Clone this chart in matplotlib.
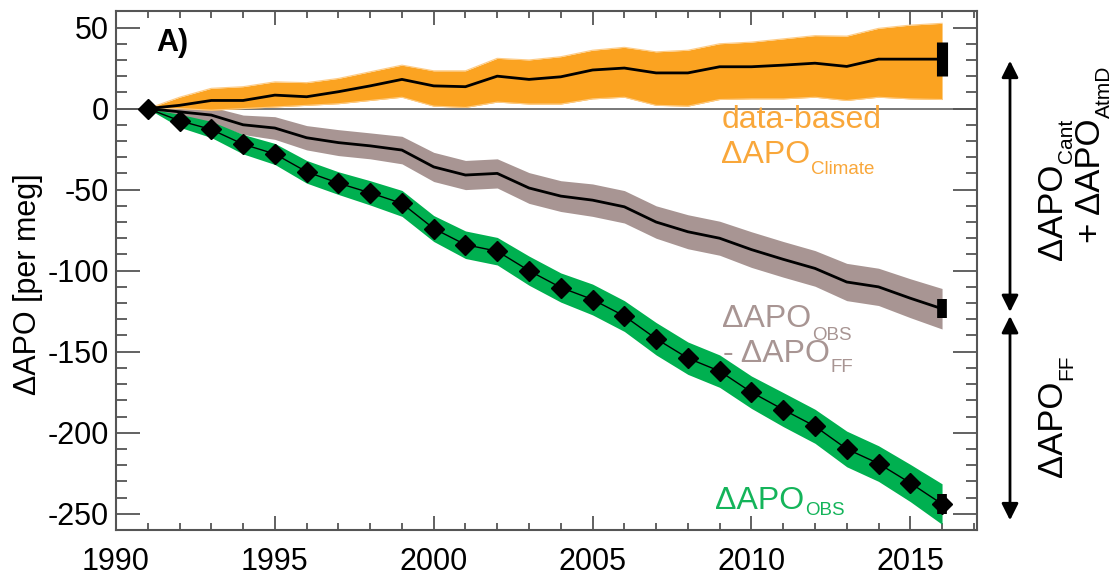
import matplotlib
matplotlib.use("Agg")
import matplotlib.pyplot as plt
from matplotlib.ticker import MultipleLocator
from matplotlib.transforms import IdentityTransform
import numpy as np

plt.rcParams['font.family'] = ['Liberation Sans', 'DejaVu Sans']
plt.rcParams['axes.unicode_minus'] = False

years = list(range(1991, 2017))

# data-based dAPO_Climate (orange): central line and band edges
climate_mid = [0, 2, 5, 5, 8.3, 7.3, 10.4, 14, 18, 14, 13.5, 20, 18, 19.6, 23.8, 25,
               22, 22, 25.8, 25.8, 26.8, 28, 26, 30.5, 30.5, 30.5]
climate_hi = [0, 7, 12.5, 13.5, 16.5, 16, 18.6, 22.7, 26.8, 23.3, 23.3, 31, 30, 32, 36, 37.8,
              35, 36, 40, 41, 43, 45, 44.7, 49.5, 51.5, 52.6]
climate_lo = [0, 0, -1, 0, 1, 2, 3, 5, 7, 1.5, 0.7, 4, 2.8, 2.8, 6, 7,
              2, 1.5, 5.6, 6, 6, 7, 5, 7, 6, 5.6]
climate_err_end = 10.6

# dAPO_OBS - dAPO_FF (grey-brown)
resid_mid = [0, -2, -4, -10, -12, -18, -21, -23, -25.6, -36, -41, -40, -49, -54, -56.5, -60.6,
             -70, -76, -80, -87, -93, -98.6, -107, -110, -117, -123.5]
resid_unc = [0, 3, 5, 6, 7, 7.5, 8, 8, 8.5, 9, 9, 9, 9.5, 9.5, 10, 10,
             10, 10.5, 10.5, 11, 11, 11, 11.5, 11.5, 12, 12.5]
resid_err_end = 6

# dAPO_OBS (green, diamonds)
obs_mid = [0, -7.5, -12.9, -22, -28, -39, -46, -52, -58.5, -74, -84, -88, -100, -110.4, -117.8, -128,
           -142, -154, -162, -175, -185.7, -196, -210, -219, -231, -244]
obs_unc = [0, 4, 5, 6, 6.5, 7, 7, 7.5, 8, 8, 8.5, 8.5, 9, 9, 9.5, 9.5,
           10, 10, 10, 10, 10.5, 10.5, 11, 11, 11.5, 12.5]
obs_err_end = 6

xticks = [1990, 1995, 2000, 2005, 2010, 2015]
yticks = [50, 0, -50, -100, -150, -200, -250]

ORANGE = '#FBA321'
ORANGE_TXT = '#F9A73A'
GREY = '#A89593'
GREEN = '#00B050'
GREEN_TXT = '#14B45A'
SPINE = '#555555'

W, H = 1114, 576
fig = plt.figure(figsize=(W / 100, H / 100), dpi=100)
ax = fig.add_axes([116 / W, 1 - 530 / H, (977 - 116) / W, (530 - 11) / H])

x = np.array(years)
ax.axhline(0, color='#606060', lw=1.2, zorder=1)

ax.fill_between(x, np.array(resid_mid) - np.array(resid_unc), np.array(resid_mid) + np.array(resid_unc),
                color=GREY, lw=0, zorder=2)
ax.fill_between(x, np.array(obs_mid) - np.array(obs_unc), np.array(obs_mid) + np.array(obs_unc),
                color=GREEN, lw=0, zorder=3)
ax.fill_between(x, climate_lo, climate_hi, color=ORANGE, lw=0, zorder=4)
ax.plot(x, climate_hi, color='#FDCB85', lw=0.8, zorder=4.5)
ax.plot(x, climate_lo, color='#FDCB85', lw=0.8, zorder=4.5)

ax.plot(x, climate_mid, color='black', lw=2, zorder=6)
ax.plot(x, resid_mid, color='black', lw=2, zorder=6)
ax.plot(x, obs_mid, color='black', lw=1, marker='D', ms=10, mfc='black', mec='black', zorder=7)

# end error bars
ax.errorbar([years[-1]], [climate_mid[-1]], yerr=[climate_err_end], color='black', elinewidth=8,
            capsize=0, zorder=8, fmt='none')
ax.errorbar([years[-1]], [resid_mid[-1]], yerr=[resid_err_end], color='black', elinewidth=7,
            capsize=0, zorder=8, fmt='none')
ax.errorbar([years[-1]], [obs_mid[-1]], yerr=[obs_err_end], color='black', elinewidth=7,
            capsize=0, zorder=8, fmt='none')

ax.set_xlim(1990, 2017.1)
ax.set_ylim(-260, 60.2)
ax.set_xticks(xticks)
ax.set_yticks(yticks)
ax.xaxis.set_minor_locator(MultipleLocator(1))
ax.yaxis.set_minor_locator(MultipleLocator(10))
ax.tick_params(which='both', direction='in', top=True, right=True, color=SPINE, width=1.3,
               labelsize=22)
ax.tick_params(axis='x', which='major', length=10, pad=12)
ax.tick_params(axis='x', which='minor', length=5)
ax.tick_params(axis='y', which='major', length=17, pad=5)
ax.tick_params(axis='y', which='minor', length=8)
for s in ax.spines.values():
    s.set_color(SPINE)
    s.set_linewidth(1.5)

fig.text(28 / W, 1 - 284 / H, 'ΔAPO [per meg]', rotation=90, ha='center', va='center', fontsize=22)

ax.text(1991.78, 40.4, 'A)', fontsize=22, fontweight='bold', ha='center', va='center')

renderer = fig.canvas.get_renderer()
ID = IdentityTransform()


def label_sub(px, py, main, sub, color, size, subsize, drop, rotation=0, gap=1):
    """Main text with baseline-anchored start at pixel (px, py) (from top-left),
    followed by a lowered subscript."""
    dy = H - py
    t = fig.text(px, dy, main, transform=ID, color=color, fontsize=size,
                 ha='left', va='baseline', rotation=rotation, rotation_mode='anchor')
    bb = t.get_window_extent(renderer)
    if rotation == 0:
        fig.text(bb.x1 + gap, dy - drop, sub, transform=ID, color=color, fontsize=subsize,
                 ha='left', va='baseline')
    else:
        fig.text(px + drop, bb.y1 + gap, sub, transform=ID, color=color, fontsize=subsize,
                 ha='left', va='baseline', rotation=rotation, rotation_mode='anchor')


fig.text(721.7, H - 128, 'data-based', transform=ID, color=ORANGE_TXT, fontsize=23,
         ha='left', va='baseline')
label_sub(720.7, 163.3, 'ΔAPO', 'Climate', ORANGE_TXT, 23, 13.5, 11)
label_sub(721.7, 326.7, 'ΔAPO', 'OBS', GREY, 23, 13.5, 13)
label_sub(723, 361.7, '- ΔAPO', 'FF', GREY, 23, 13.5, 10)
label_sub(715, 509.3, 'ΔAPO', 'OBS', GREEN_TXT, 23, 13.5, 6)

# right-hand bracket arrows
ax_x = (1010 - 116) / (977 - 116)
ax.annotate('', xy=(ax_x, climate_mid[-1] - 1), xytext=(ax_x, -125.5),
            xycoords=('axes fraction', 'data'), textcoords=('axes fraction', 'data'),
            arrowprops=dict(arrowstyle='<|-|>', color='black', lw=2, mutation_scale=25,
                            shrinkA=0, shrinkB=0), annotation_clip=False)
ax.annotate('', xy=(ax_x, -128), xytext=(ax_x, -254),
            xycoords=('axes fraction', 'data'), textcoords=('axes fraction', 'data'),
            arrowprops=dict(arrowstyle='<|-|>', color='black', lw=2, mutation_scale=25,
                            shrinkA=0, shrinkB=0), annotation_clip=False)

label_sub(1062, 260, 'ΔAPO', 'Cant', 'black', 25, 15, 10, rotation=90)
label_sub(1100, 243, '+ ΔAPO', 'AtmD', 'black', 25, 15, 10, rotation=90)
label_sub(1062, 477, 'ΔAPO', 'FF', 'black', 25, 15, 10, rotation=90)

fig.savefig('out.png', dpi=100)
